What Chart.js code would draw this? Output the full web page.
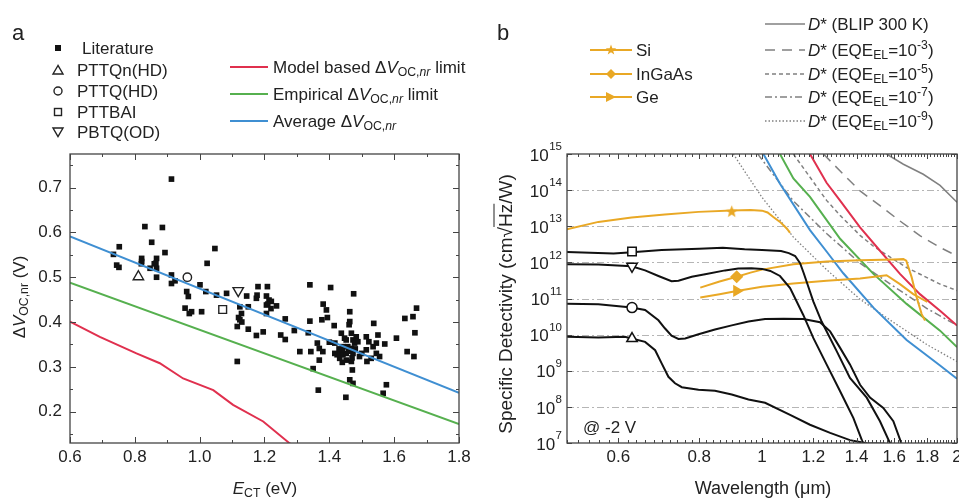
<!DOCTYPE html>
<html><head><meta charset="utf-8">
<script src="https://cdn.jsdelivr.net/npm/chart.js@4.4.1/dist/chart.umd.min.js"></script>
<style>
html,body{margin:0;padding:0;background:#fff;}
#wrap{position:relative;width:959px;height:498px;overflow:hidden;font-family:"Liberation Sans",Arial,Helvetica,sans-serif;color:#222;}
canvas{position:absolute;top:0;}
.t{position:absolute;white-space:nowrap;transform:translateY(-50%);line-height:1;font-size:17px;}
.c{position:absolute;white-space:nowrap;transform:translate(-50%,-50%);line-height:1;font-size:17px;}
.r{position:absolute;white-space:nowrap;transform:translate(-50%,-50%) rotate(-90deg);line-height:1;font-size:17px;}
sub{font-size:0.72em;vertical-align:-0.3em;line-height:0}
sup{font-size:0.72em;vertical-align:0.55em;line-height:0}
.ov{text-decoration:overline;}
</style></head>
<body><div id="wrap">
<canvas id="ca" width="480" height="498" style="left:0"></canvas>
<canvas id="cb" width="492" height="498" style="left:480px"></canvas>
<svg width="959" height="498" style="position:absolute;left:0;top:0">
 <rect x="55" y="45" width="6" height="6" fill="#111"/>
 <polygon points="58,65.5 53,74 63,74" fill="none" stroke="#222" stroke-width="1.4"/>
 <circle cx="58" cy="91" r="4" fill="none" stroke="#222" stroke-width="1.4"/>
 <rect x="54.5" y="108.5" width="7" height="7" fill="none" stroke="#222" stroke-width="1.4"/>
 <polygon points="53,128 63,128 58,136.5" fill="none" stroke="#222" stroke-width="1.4"/>
 <line x1="230" y1="67" x2="268" y2="67" stroke="#E0304E" stroke-width="2"/>
 <line x1="230" y1="94" x2="268" y2="94" stroke="#56B04F" stroke-width="2"/>
 <line x1="230" y1="121" x2="268" y2="121" stroke="#3F8FD2" stroke-width="2"/>
 <line x1="590" y1="50" x2="632" y2="50" stroke="#E9A825" stroke-width="2"/>
 <polygon points="611,44.5 612.35,48.14 616.23,48.3 613.19,50.71 614.23,54.45 611,52.3 607.77,54.45 608.81,50.71 605.77,48.3 609.65,48.14" fill="#E9A825"/>
 <line x1="590" y1="74" x2="632" y2="74" stroke="#E9A825" stroke-width="2"/>
 <polygon points="611,69 616,74 611,79 606,74" fill="#E9A825"/>
 <line x1="590" y1="97" x2="632" y2="97" stroke="#E9A825" stroke-width="2"/>
 <polygon points="606,92 616,97 606,102" fill="#E9A825"/>
 <line x1="765" y1="24" x2="805" y2="24" stroke="#808080" stroke-width="1.5"/>
 <line x1="765" y1="50" x2="805" y2="50" stroke="#808080" stroke-width="1.5" stroke-dasharray="10 7"/>
 <line x1="765" y1="74" x2="805" y2="74" stroke="#808080" stroke-width="1.5" stroke-dasharray="4 3"/>
 <line x1="765" y1="97" x2="805" y2="97" stroke="#808080" stroke-width="1.5" stroke-dasharray="7 3 2 3"/>
 <line x1="765" y1="121" x2="805" y2="121" stroke="#808080" stroke-width="1.5" stroke-dasharray="1.5 2"/>
</svg>
<div class="t" style="left:12px;top:33px;font-size:22px">a</div>
<div class="t" style="left:497px;top:33px;font-size:22px">b</div>
<div class="t" style="left:82px;top:48px">Literature</div>
<div class="t" style="left:77px;top:70px">PTTQn(HD)</div>
<div class="t" style="left:77px;top:91px">PTTQ(HD)</div>
<div class="t" style="left:77px;top:112px">PTTBAI</div>
<div class="t" style="left:77px;top:132px">PBTQ(OD)</div>
<div class="t" style="left:273px;top:67px">Model based Δ<i>V</i><sub>OC,<i>nr</i></sub> limit</div>
<div class="t" style="left:273px;top:94px">Empirical Δ<i>V</i><sub>OC,<i>nr</i></sub> limit</div>
<div class="t" style="left:273px;top:121px">Average Δ<i>V</i><sub>OC,<i>nr</i></sub></div>
<div class="t" style="left:636px;top:50px">Si</div>
<div class="t" style="left:636px;top:74px">InGaAs</div>
<div class="t" style="left:636px;top:97px">Ge</div>
<div class="t" style="left:808px;top:24px"><i>D</i>* (BLIP 300 K)</div>
<div class="t" style="left:808px;top:50px"><i>D</i>* (EQE<sub>EL</sub>=10<sup>-3</sup>)</div>
<div class="t" style="left:808px;top:74px"><i>D</i>* (EQE<sub>EL</sub>=10<sup>-5</sup>)</div>
<div class="t" style="left:808px;top:97px"><i>D</i>* (EQE<sub>EL</sub>=10<sup>-7</sup>)</div>
<div class="t" style="left:808px;top:121px"><i>D</i>* (EQE<sub>EL</sub>=10<sup>-9</sup>)</div>
<div class="c" style="left:265px;top:488px"><i>E</i><sub>CT</sub> (eV)</div>
<div class="r" style="left:19px;top:297px">Δ<i>V</i><sub>OC,nr</sub> (V)</div>
<div class="c" style="left:763px;top:488px;font-size:18px">Wavelength (μm)</div>
<div class="r" style="left:505px;top:304px;font-size:19px">Specific Detectivity (cm√<span class="ov">Hz</span>/W)</div>
<div class="t" style="left:583px;top:427px;font-size:17px">@ -2 V</div>
</div>
<script>
// ---------- Panel a data ----------
const litE = [0.734,0.752,0.744,0.751,0.831,0.885,0.852,0.821,0.821,0.867,
0.865,0.893,0.847,0.867,0.867,0.913,0.913,0.913,0.924,1.047,
1.023,1.001,1.019,0.960,0.965,0.955,0.968,0.975,1.006,1.052,
1.083,1.116,1.116,1.124,1.129,1.124,1.145,1.150,1.150,1.175,
1.180,1.177,1.196,1.175,1.209,1.206,1.214,1.221,1.206,1.237,
1.206,1.264,1.250,1.264,1.292,1.309,1.335,1.340,1.340,1.343,
1.350,1.363,1.369,1.369,1.366,1.377,1.380,1.381,1.391,1.394,
1.404,1.415,1.417,1.432,1.437,1.432,1.442,1.442,1.447,1.452,
1.452,1.457,1.461,1.463,1.463,1.468,1.473,1.468,1.473,1.475,
1.478,1.483,1.488,1.463,1.473,1.451,1.468,1.471,1.452,1.493,
1.514,1.514,1.522,1.516,1.529,1.535,1.537,1.545,1.550,1.545,
1.555,1.571,1.566,1.576,1.607,1.633,1.640,1.658,1.669,1.664,
1.661,1.424,1.417,
1.440,1.460,1.480,1.430,1.470,1.500,1.400,1.440,1.120,1.130,1.210,1.220,0.820,0.860];
const litV = [0.551,0.568,0.527,0.522,0.613,0.611,0.578,0.542,0.535,0.542,
0.531,0.555,0.520,0.520,0.500,0.719,0.505,0.486,0.492,0.564,
0.531,0.483,0.468,0.468,0.457,0.431,0.419,0.423,0.423,0.460,
0.464,0.312,0.390,0.434,0.419,0.405,0.458,0.434,0.384,0.453,
0.479,0.460,0.378,0.370,0.479,0.458,0.449,0.446,0.438,0.436,
0.419,0.407,0.371,0.361,0.381,0.334,0.376,0.402,0.483,0.334,
0.296,0.353,0.341,0.315,0.248,0.405,0.334,0.440,0.427,0.410,
0.477,0.392,0.353,0.330,0.375,0.319,0.345,0.327,0.364,0.330,
0.315,0.345,0.394,0.423,0.401,0.375,0.360,0.341,0.330,0.463,
0.353,0.367,0.356,0.271,0.263,0.232,0.312,0.293,0.360,0.323,
0.338,0.367,0.356,0.312,0.319,0.345,0.397,0.353,0.371,0.330,
0.323,0.351,0.241,0.260,0.364,0.408,0.334,0.412,0.431,0.376,
0.323,0.327,0.330,
0.338,0.335,0.340,0.340,0.320,0.330,0.355,0.310,0.410,0.400,0.440,0.430,0.530,0.530];
const ownNames = ['PTTQn(HD)','PTTQ(HD)','PTTBAI','PBTQ(OD)'];
const ownE = [0.811,0.962,1.071,1.119];
const ownV = [0.501,0.500,0.428,0.470];
const modelE = [0.60,0.692,0.805,0.877,0.949,1.042,1.103,1.196,1.278,1.32];
const modelV = [0.401,0.367,0.330,0.308,0.274,0.248,0.215,0.178,0.129,0.11];
const empE = [0.6,1.8];
const empV = [0.488,0.172];
const avgE = [0.6,1.8];
const avgV = [0.591,0.242];
const xTicksA = [0.6,0.8,1.0,1.2,1.4,1.6,1.8];
const yTicksA = [0.2,0.3,0.4,0.5,0.6,0.7];

// ---------- Panel b data ----------
const wlTicks = [0.6,0.8,1,1.2,1.4,1.6,1.8,2];
const decadeExp = [7,8,9,10,11,12,13,14,15];
const pttbaiWl = [0.50,0.59,0.63,0.70,0.80,0.87,0.94,1.00,1.07,1.10,1.125,1.145,1.16,1.20,1.236,1.304,1.367,1.451,1.521,1.58];
const pttbaiD  = [1.95e12,1.75e12,1.9e12,2.2e12,2.4e12,2.55e12,2.3e12,2.2e12,2.05e12,1.8e12,1.5e12,9.5e11,5.0e11,8.3e10,2.3e10,3.5e9,6.3e8,1.8e8,4.0e7,9.0e6];
const pbtqWl = [0.50,0.559,0.629,0.660,0.692,0.725,0.743,0.779,0.817,0.877,0.919,0.963,1.00,1.03,1.066,1.105,1.158,1.20,1.258,1.32,1.384,1.434];
const pbtqD  = [8.9e11,8.7e11,7.8e11,6.0e11,4.2e11,3.0e11,3.1e11,4.0e11,4.7e11,6.0e11,6.8e11,6.9e11,6.6e11,5.8e11,4.2e11,1.95e11,3.5e10,8.1e9,1.5e9,2.7e8,4.9e7,9.3e6];
const pttqWl = [0.50,0.559,0.629,0.660,0.692,0.708,0.725,0.743,0.761,0.798,0.846,0.898,0.953,1.011,1.08,1.158,1.229,1.274,1.32,1.367,1.417,1.468,1.539,1.595,1.643];
const pttqD  = [7.2e10,6.9e10,5.6e10,4.8e10,2.5e10,1.5e10,9.3e9,7.6e9,7.8e9,1.02e10,1.38e10,1.8e10,2.3e10,2.7e10,2.75e10,2.7e10,2.2e10,1.23e10,4.3e9,1.5e9,4.1e8,1.8e8,9.3e7,4.0e7,9.3e6];
const pttqnWl = [0.50,0.559,0.614,0.629,0.660,0.684,0.700,0.717,0.734,0.752,0.798,0.846,0.898,0.953,1.011,1.105,1.186,1.274,1.367,1.451,1.55];
const pttqnD  = [8.7e9,8.3e9,8.7e9,7.8e9,6.3e9,3.7e9,1.6e9,6.8e8,4.5e8,3.5e8,3.0e8,2.8e8,2.2e8,1.6e8,1.3e8,6.0e7,3.2e7,1.9e7,1.2e7,9.8e6,9.5e6];
const ownMarkWl = [0.63,0.63,0.63,0.63];           // PTTQn, PTTQ, PTTBAI, PBTQ
const ownMarkD  = [7.8e9,5.6e10,2.0e12,7.8e11];
const siWl = [0.50,0.559,0.629,0.708,0.798,0.898,0.96,1.00,1.02,1.041,1.066,1.092,1.105];
const siD  = [8.3e12,1.32e13,1.74e13,2.1e13,2.5e13,2.75e13,2.8e13,2.7e13,2.4e13,1.8e13,1.32e13,8.7e12,6.6e12];
const ingaasWl = [0.803,0.86,0.914,0.96,1.00,1.118,1.258,1.417,1.595,1.653,1.67,1.702,1.733,1.764,1.785];
const ingaasD  = [2.0e11,2.95e11,4.0e11,5.2e11,6.3e11,8.9e11,1.05e12,1.15e12,1.2e12,1.23e12,1.12e12,3.9e11,1.07e11,3.7e10,2.45e10];
const geWl = [0.803,0.86,0.914,1.00,1.118,1.258,1.417,1.557,1.633,1.712,1.80];
const geD  = [1.07e11,1.32e11,1.62e11,2.1e11,2.6e11,3.1e11,3.6e11,4.4e11,2.5e11,1.32e11,8.0e10];
const refMarkWl = [0.898,0.914,0.914];              // Si, InGaAs, Ge
const refMarkD  = [2.6e13,4.0e11,1.62e11];
const modelWl = [1.186,1.258,1.32,1.417,1.521,1.633,1.753,1.883,2.0];
const modelD  = [1e15,1.6e14,5.1e13,9.3e12,2.1e12,4.8e11,1.32e11,4.6e10,1.78e10];
const empWl = [1.066,1.118,1.186,1.32,1.486,1.672,1.883,2.0];
const empD  = [1e15,2.1e14,6.5e13,4.5e12,4.8e11,7.1e10,1.29e10,4.5e9];
const avgWl = [1.005,1.066,1.186,1.258,1.335,1.486,1.672,1.883,2.0];
const avgD  = [1e15,1.5e14,7.8e12,2.0e12,5.0e11,5.6e10,7.1e9,1.4e9,6.0e8];
const blipWl = [1.557,1.653,1.774,1.883,2.0];
const blipD  = [1e15,5.2e14,2.75e14,1.35e14,4.6e13];
const eqe3Wl = [1.244,1.335,1.417,1.521,1.633,1.753,1.883,2.0];
const eqe3D  = [1e15,2.75e14,9.5e13,3.7e13,1.4e13,5.5e12,2.6e12,1.5e12];
const eqe5Wl = [1.118,1.258,1.32,1.417,1.486,1.577,1.672,1.883,2.0];
const eqe5D  = [1e15,5.2e13,2.0e13,5.6e12,2.8e12,1.4e12,7.2e11,2.5e11,1.66e11];
const eqe7Wl = [0.985,1.118,1.258,1.417,1.595,1.8,2.0];
const eqe7D  = [1e15,5.0e13,6.3e12,9.5e11,2.2e11,5.2e10,1.8e10];
const eqe9Wl = [0.903,0.95,1.0,1.118,1.258,1.417,1.595,1.8,2.0];
const eqe9D  = [1e15,2.5e14,6.3e13,5.0e12,6.3e11,9.5e10,2.2e10,5.2e9,1.8e9];

// ---------- styles ----------
const RED='#E0304E', GREEN='#56B04F', BLUE='#3F8FD2', ORANGE='#E9A825', GRAY='#808080', BLACK='#111';
const FONT = '"Liberation Sans", Arial, Helvetica, sans-serif';
const pts = (xs, ys) => xs.map((v,i)=>({x:v, y:ys[i]}));

function starCanvas(size, color){
  const c=document.createElement('canvas'); c.width=c.height=size;
  const g=c.getContext('2d'); g.fillStyle=color; g.beginPath();
  for(let i=0;i<10;i++){const r=(i%2)?size*0.21:size*0.5; const a=-Math.PI/2+i*Math.PI/5;
    g.lineTo(size/2+r*Math.cos(a), size/2+r*Math.sin(a)+size*0.04);}
  g.closePath(); g.fill(); return c;
}

function framePlugin(o){
  return {
    id:'frame'+o.id,
    beforeDatasetsDraw(chart){
      if(!o.grid) return;
      const {ctx, chartArea:a, scales:{y}} = chart;
      ctx.save(); ctx.strokeStyle='#b5b5b5'; ctx.lineWidth=1; ctx.setLineDash([7,3,2,3]);
      o.grid.forEach(v=>{const py=Math.round(y.getPixelForValue(v))+0.5;
        ctx.beginPath(); ctx.moveTo(a.left,py); ctx.lineTo(a.right,py); ctx.stroke();});
      ctx.restore();
    },
    afterDatasetsDraw(chart){
      const {ctx, chartArea:a, scales:{x,y}} = chart;
      ctx.save(); ctx.strokeStyle='#444'; ctx.lineWidth=1.3; ctx.setLineDash([]);
      ctx.strokeRect(a.left, a.top, a.right-a.left, a.bottom-a.top);
      ctx.lineWidth=1;
      const seg=(x1,y1,x2,y2)=>{ctx.beginPath();ctx.moveTo(x1,y1);ctx.lineTo(x2,y2);ctx.stroke();};
      const xt=(vals,len)=>vals.forEach(v=>{const px=Math.round(x.getPixelForValue(v))+0.5;
        if(px<a.left-0.5||px>a.right+0.5) return; seg(px,a.bottom,px,a.bottom-len); seg(px,a.top,px,a.top+len);});
      const yt=(vals,len)=>vals.forEach(v=>{const py=Math.round(y.getPixelForValue(v))+0.5;
        if(py<a.top-0.5||py>a.bottom+0.5) return; seg(a.left,py,a.left+len,py); seg(a.right,py,a.right-len,py);});
      xt(o.xMinor,o.minLen); xt(o.xMajor,o.majLen); yt(o.yMinor,o.minLen); yt(o.yMajor,o.majLen);
      ctx.restore();
    },
    afterDraw(chart){
      if(!o.expLabels) return;
      const {ctx, chartArea:a, scales:{y}} = chart;
      ctx.save(); ctx.fillStyle='#222'; ctx.textBaseline='middle'; ctx.textAlign='left';
      o.expLabels.forEach(e=>{
        const py=y.getPixelForValue(Math.pow(10,e));
        ctx.font='11.5px '+FONT; const sw=ctx.measureText(String(e)).width;
        ctx.font='17px '+FONT; const bw=ctx.measureText('10').width;
        const xe=a.left-5;
        ctx.fillText('10', xe-sw-bw-0.5, py+2);
        ctx.font='11.5px '+FONT; ctx.fillText(String(e), xe-sw, py-7);
      });
      ctx.restore();
    }
  };
}

const tickFont = {family:FONT, size:17};

// ---------- Chart a ----------
const minorXA=[], minorYA=[];
for(let v=0.6; v<=1.801; v+=0.1) minorXA.push(+v.toFixed(2));
for(let v=0.15; v<=0.751; v+=0.05) minorYA.push(+v.toFixed(2));

new Chart(document.getElementById('ca'), {
  type:'scatter',
  data:{datasets:[
    {label:ownNames[0], data:[{x:ownE[0],y:ownV[0]}], pointStyle:'triangle', pointRadius:6, backgroundColor:'rgba(255,255,255,0)', borderColor:'#222', borderWidth:1.4},
    {label:ownNames[1], data:[{x:ownE[1],y:ownV[1]}], pointStyle:'circle', pointRadius:4.2, backgroundColor:'rgba(255,255,255,0)', borderColor:'#222', borderWidth:1.4},
    {label:ownNames[2], data:[{x:ownE[2],y:ownV[2]}], pointStyle:'rect', pointRadius:5.5, backgroundColor:'rgba(255,255,255,0)', borderColor:'#222', borderWidth:1.4},
    {label:ownNames[3], data:[{x:ownE[3],y:ownV[3]}], pointStyle:'triangle', rotation:180, pointRotation:180, pointRadius:6, backgroundColor:'rgba(255,255,255,0)', borderColor:'#222', borderWidth:1.4},
    {label:'Average', data:pts(avgE,avgV), showLine:true, pointRadius:0, borderColor:BLUE, borderWidth:2, clip:0},
    {label:'Empirical', data:pts(empE,empV), showLine:true, pointRadius:0, borderColor:GREEN, borderWidth:2, clip:0},
    {label:'Model', data:pts(modelE,modelV), showLine:true, pointRadius:0, borderColor:RED, borderWidth:2, clip:0},
    {label:'Literature', data:pts(litE,litV), pointStyle:'rect', pointRadius:4, backgroundColor:BLACK, borderColor:BLACK, borderWidth:0}
  ]},
  options:{
    responsive:false, animation:false, devicePixelRatio:1,
    layout:{padding:{left:0,right:21,top:154,bottom:0}},
    plugins:{legend:{display:false}, tooltip:{enabled:false}},
    scales:{
      x:{type:'linear', min:0.6, max:1.8,
        afterBuildTicks:s=>{s.ticks=xTicksA.map(v=>({value:v}));},
        afterFit:s=>{s.height=55; s.paddingLeft=0; s.paddingRight=0;},
        ticks:{font:tickFont, color:'#222', padding:4, autoSkip:false, maxRotation:0, callback:v=>Number(v).toFixed(1)},
        grid:{display:false, drawTicks:false}, border:{display:false}},
      y:{type:'linear', min:0.13, max:0.775,
        afterBuildTicks:s=>{s.ticks=yTicksA.map(v=>({value:v}));},
        afterFit:s=>{s.width=70; s.paddingTop=0; s.paddingBottom=0;},
        ticks:{font:tickFont, color:'#222', padding:8, autoSkip:false, callback:v=>Number(v).toFixed(1)},
        grid:{display:false, drawTicks:false}, border:{display:false}}
    }
  },
  plugins:[framePlugin({id:'a', xMajor:xTicksA, xMinor:minorXA, yMajor:yTicksA, yMinor:minorYA, majLen:6, minLen:3})]
});

// ---------- Chart b ----------
const minorXB=[];
for(let v=0.5; v<=2.001; v+=0.02) minorXB.push(+v.toFixed(2));
const decadeVals = decadeExp.map(e=>Math.pow(10,e));
const lineDs=(label,xs,ys,color,width,dash)=>({label, data:pts(xs,ys), showLine:true, pointRadius:0, borderColor:color, borderWidth:width, borderDash:dash||[], clip:0});
const markDs=(label,x,y,style,r,rot,fill,stroke)=>({label, data:[{x,y}], pointStyle:style, pointRadius:r, rotation:rot, pointRotation:rot, backgroundColor:fill, borderColor:stroke, borderWidth:1.5});

new Chart(document.getElementById('cb'), {
  type:'scatter',
  data:{datasets:[
    markDs('PTTQn(HD)', ownMarkWl[0], ownMarkD[0], 'triangle', 6, 0, '#fff', BLACK),
    markDs('PTTQ(HD)',  ownMarkWl[1], ownMarkD[1], 'circle', 5, 0, '#fff', BLACK),
    markDs('PTTBAI',    ownMarkWl[2], ownMarkD[2], 'rect', 6, 0, '#fff', BLACK),
    markDs('PBTQ(OD)',  ownMarkWl[3], ownMarkD[3], 'triangle', 6, 180, '#fff', BLACK),
    lineDs('PTTQn(HD) curve', pttqnWl, pttqnD, BLACK, 2),
    lineDs('PTTQ(HD) curve', pttqWl, pttqD, BLACK, 2),
    lineDs('PTTBAI curve', pttbaiWl, pttbaiD, BLACK, 2),
    lineDs('PBTQ(OD) curve', pbtqWl, pbtqD, BLACK, 2),
    {label:'Si mark', data:[{x:refMarkWl[0],y:refMarkD[0]}], pointStyle:starCanvas(13,ORANGE), pointRadius:6},
    markDs('InGaAs mark', refMarkWl[1], refMarkD[1], 'rectRot', 5.5, 0, ORANGE, ORANGE),
    markDs('Ge mark', refMarkWl[2], refMarkD[2], 'triangle', 5.5, 90, ORANGE, ORANGE),
    lineDs('Si', siWl, siD, ORANGE, 2),
    lineDs('InGaAs', ingaasWl, ingaasD, ORANGE, 2),
    lineDs('Ge', geWl, geD, ORANGE, 2),
    lineDs('Model', modelWl, modelD, RED, 2),
    lineDs('Empirical', empWl, empD, GREEN, 2),
    lineDs('Average', avgWl, avgD, BLUE, 2),
    lineDs('BLIP', blipWl, blipD, GRAY, 1.5),
    lineDs('EQE 1e-3', eqe3Wl, eqe3D, GRAY, 1.5, [10,7]),
    lineDs('EQE 1e-5', eqe5Wl, eqe5D, GRAY, 1.5, [4,3]),
    lineDs('EQE 1e-7', eqe7Wl, eqe7D, GRAY, 1.5, [7,3,2,3]),
    lineDs('EQE 1e-9', eqe9Wl, eqe9D, GRAY, 1.3, [1.5,2])
  ]},
  options:{
    responsive:false, animation:false, devicePixelRatio:1,
    layout:{padding:{left:0,right:15,top:154,bottom:0}},
    plugins:{legend:{display:false}, tooltip:{enabled:false}},
    scales:{
      x:{type:'logarithmic', min:0.5, max:2,
        afterBuildTicks:s=>{s.ticks=wlTicks.map(v=>({value:v}));},
        afterFit:s=>{s.height=55; s.paddingLeft=0; s.paddingRight=0;},
        ticks:{font:tickFont, color:'#222', padding:4, autoSkip:false, maxRotation:0, callback:v=>String(+Number(v).toFixed(1))},
        grid:{display:false, drawTicks:false}, border:{display:false}},
      y:{type:'logarithmic', min:1e7, max:1e15,
        afterBuildTicks:s=>{s.ticks=decadeVals.map(v=>({value:v}));},
        afterFit:s=>{s.width=87; s.paddingTop=0; s.paddingBottom=0;},
        ticks:{display:false},
        grid:{display:false, drawTicks:false}, border:{display:false}}
    }
  },
  plugins:[framePlugin({id:'b', xMajor:wlTicks, xMinor:minorXB, yMajor:decadeVals, yMinor:[], majLen:5, minLen:3,
    grid:decadeVals.slice(1,-1), expLabels:decadeExp})]
});
</script>
</body></html>
